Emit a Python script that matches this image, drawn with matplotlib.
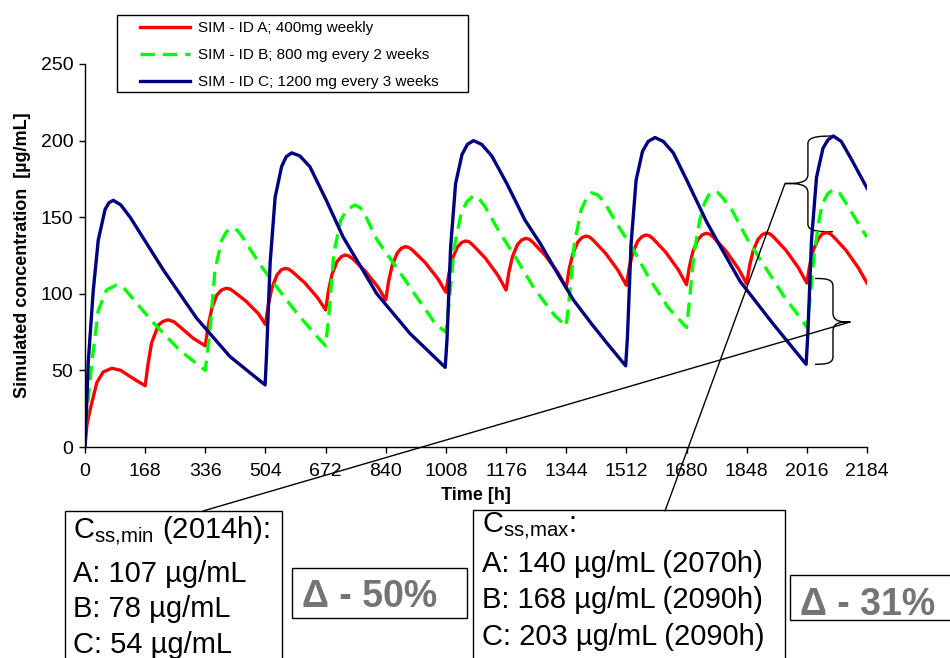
import matplotlib
matplotlib.use("Agg")
import matplotlib.pyplot as plt
from matplotlib.patches import Rectangle, PathPatch, ConnectionPatch
from matplotlib.path import Path

plt.rcParams['font.family'] = ['Liberation Sans', 'DejaVu Sans']
plt.rcParams['mathtext.fontset'] = 'custom'
plt.rcParams['mathtext.rm'] = 'Liberation Sans'
plt.rcParams['mathtext.it'] = 'Liberation Sans:italic'
plt.rcParams['mathtext.bf'] = 'Liberation Sans:bold'

# ---------------- data ----------------
labels = ["SIM - ID A; 400mg weekly",
          "SIM - ID B; 800 mg every 2 weeks",
          "SIM - ID C; 1200 mg every 3 weeks"]

time_a = [0, 5, 14, 33, 51, 75, 100, 126, 150, 168,
          176, 186, 205, 218, 232, 248, 265, 302, 336,
          344, 354, 368, 381, 394, 404, 414, 449, 484, 504,
          512, 522, 536, 548, 559, 569, 579, 614, 649, 672,
          680, 690, 704, 716, 727, 737, 747, 782, 817, 840,
          848, 858, 872, 884, 895, 905, 915, 950, 985, 1008,
          1016, 1026, 1040, 1052, 1063, 1073, 1083, 1118, 1153, 1176,
          1184, 1194, 1208, 1220, 1231, 1241, 1251, 1286, 1321, 1344,
          1352, 1362, 1376, 1388, 1399, 1409, 1419, 1454, 1489, 1512,
          1520, 1530, 1544, 1556, 1567, 1577, 1587, 1622, 1657, 1680,
          1688, 1698, 1712, 1724, 1735, 1745, 1755, 1790, 1825, 1848,
          1856, 1866, 1880, 1892, 1903, 1913, 1923, 1958, 1993, 2016,
          2024, 2034, 2048, 2059, 2070, 2080, 2090, 2125, 2160, 2184]
conc_a = [0, 14, 24, 42, 49, 51.4, 50, 46, 42.5, 40,
          54, 68, 79.6, 82, 83, 81.8, 78.5, 71, 66,
          79.2, 90.4, 99.1, 102.4, 103.6, 103.2, 101.7, 95.3, 87.1, 80,
          92.8, 103.8, 112.2, 115.6, 116.6, 116.1, 114.4, 107.1, 97.6, 89.5,
          102.0, 112.8, 121.0, 124.3, 125.3, 124.7, 123.0, 115.0, 104.8, 96,
          108.2, 118.6, 126.6, 129.8, 130.8, 130.2, 128.4, 120.4, 110.0, 101,
          112.7, 122.8, 130.5, 133.5, 134.5, 133.9, 131.9, 123.3, 112.1, 102.5,
          114.3, 124.4, 132.2, 135.2, 136.2, 135.6, 133.6, 124.9, 113.7, 104,
          115.8, 125.9, 133.7, 136.7, 137.7, 137.1, 135.1, 126.4, 115.2, 105.5,
          117.0, 126.9, 134.5, 137.4, 138.4, 137.8, 135.8, 127.1, 115.7, 106,
          117.7, 127.8, 135.5, 138.5, 139.5, 138.9, 136.9, 128.0, 116.4, 106.5,
          118.1, 128.1, 135.7, 138.7, 139.7, 139.1, 137.1, 128.3, 116.8, 107,
          118.6, 128.5, 136.0, 139.0, 140, 139.4, 137.4, 128.5, 116.9, 107]

time_b = [0, 5, 19, 37, 60, 88, 106, 126, 191, 265, 336,
          341, 349, 363, 382, 395, 410, 425, 440, 489, 540, 593, 656, 672,
          680, 695, 714, 732, 754, 770, 785, 816, 872, 926, 980, 1008,
          1016, 1031, 1050, 1066, 1085, 1101, 1117, 1157, 1210, 1254, 1313, 1344,
          1352, 1367, 1386, 1400, 1415, 1432, 1450, 1482, 1532, 1576, 1629, 1680,
          1688, 1700, 1716, 1730, 1742, 1755, 1768, 1780, 1806, 1850, 1902, 1953, 2005, 2016,
          2024, 2036, 2050, 2060, 2075, 2090, 2108, 2126, 2174, 2184]
conc_b = [0, 22, 55, 89, 102.5, 105.7, 104.5, 99, 81, 63, 50,
          60, 76, 115.5, 135, 140.5, 143.2, 141.5, 137, 119, 103, 87, 70, 66,
          83, 126.5, 148, 155, 158, 156, 150, 135, 116.6, 98, 80, 75,
          92, 130, 152, 160, 164, 162, 157, 140.5, 121, 103.6, 85.5, 79,
          96, 133, 155, 162, 166, 164.5, 160, 147, 128.6, 110, 91, 78,
          95, 125, 147, 159, 164.5, 167, 166, 163, 155, 135.6, 116.6, 98, 82, 78,
          95, 125, 148, 159, 165.5, 168, 165.5, 159, 140.5, 137]

time_c = [0, 5, 9, 23, 37, 56, 67, 79, 100, 126, 219, 312, 405, 503,
          507, 517, 531, 549, 562, 577, 600, 628, 674, 721, 815, 908, 1006,
          1011, 1021, 1035, 1053, 1068, 1085, 1108, 1136, 1178, 1229, 1271, 1323, 1364, 1416, 1457, 1510,
          1515, 1525, 1539, 1557, 1573, 1592, 1615, 1643, 1681, 1736, 1774, 1830, 1923, 2014,
          2019, 2029, 2043, 2061, 2075, 2090, 2112, 2140, 2184]
conc_c = [0, 30, 55, 102, 135, 155, 159.5, 161, 158, 150, 115.5, 84, 59, 40.5,
          60, 120, 163, 183, 189.5, 192, 190, 183, 161, 137, 100, 74, 52,
          70, 130, 172, 191, 197.5, 200, 197.5, 190, 172, 148, 133, 112, 96, 80, 68, 53,
          72, 132, 174, 193, 199.5, 202, 199.5, 192, 174, 147, 131, 108, 80, 54,
          75, 135, 176, 195, 200.5, 203, 199.5, 188, 169]

x_ticks = list(range(0, 2185, 168))
y_ticks = [0, 50, 100, 150, 200, 250]

css_min_lines = [r"C$_{\mathrm{ss{,}min}}$ (2014h):", "A: 107 µg/mL", "B: 78 µg/mL", "C: 54 µg/mL"]
css_max_lines = [r"C$_{\mathrm{ss{,}max}}$:", "A: 140 µg/mL (2070h)",
                 "B: 168 µg/mL (2090h)", "C: 203 µg/mL (2090h)"]
delta_min = "Δ - 50%"
delta_max = "Δ - 31%"
# brace ranges (Css values)
upper_range = (140.5, 203)
lower_range = (54, 110)

# ---------------- figure ----------------
W, H = 950, 658
fig = plt.figure(figsize=(W / 100, H / 100), dpi=100)
ax = fig.add_axes([85 / W, 1 - 447 / H, (867 - 85) / W, (447 - 64) / H])


def fx(px):
    return px / W


def fy(py):
    return 1 - py / H


lw = 2.4
la, = ax.plot(time_a, conc_a, color='#FF0000', lw=lw, solid_joinstyle='round')
lb, = ax.plot(time_b, conc_b, color='#00FF00', lw=lw, linestyle=(0, (4.3, 2.4)))
lc, = ax.plot(time_c, conc_c, color='#000080', lw=lw, solid_joinstyle='round')

ax.set_xlim(0, 2184)
ax.set_ylim(0, 250)
ax.set_xticks(x_ticks)
ax.set_yticks(y_ticks)
for s in ['top', 'right']:
    ax.spines[s].set_visible(False)
for s in ['left', 'bottom']:
    ax.spines[s].set_linewidth(1.0)
ax.tick_params(axis='both', direction='out', length=4.3, width=1.0, labelsize=14)
ax.tick_params(axis='x', pad=7)
ax.tick_params(axis='y', pad=4)

ax.set_xlabel('Time [h]', fontsize=13, fontweight='bold')
ax.set_ylabel('Simulated concentration  [µg/mL]', fontsize=13, fontweight='bold')
ax.xaxis.set_label_coords(0.5, -0.105)
ax.yaxis.set_label_coords(-0.069, 0.5)

# legend (real legend object, with frame drawn separately)
leg = fig.legend([la, lb, lc], labels, loc='upper left',
                 bbox_to_anchor=(fx(140), fy(21)), bbox_transform=fig.transFigure,
                 frameon=False, fontsize=11, borderpad=0, borderaxespad=0,
                 handlelength=3.27, handletextpad=0.52, labelspacing=0.85)
fig.add_artist(Rectangle((fx(117), fy(92)), fx(468) - fx(117), fy(15) - fy(92),
                         transform=fig.transFigure, fill=False, ec='black', lw=1.0))


# ---------------- braces ----------------
def brace(xs, xt, xe_top, xe_bot, ybot, ytop, ym, r_end=5, r_mid=6):
    verts = [
        (xe_top, ytop),
        ((xe_top + xs) / 2, ytop), (xs, ytop), (xs, ytop - r_end),
        (xs, ym + r_mid),
        (xs, ym), ((xs + xt) / 2, ym), (xt, ym),
        ((xs + xt) / 2, ym), (xs, ym), (xs, ym - r_mid),
        (xs, ybot + r_end),
        (xs, ybot), ((xe_bot + xs) / 2, ybot), (xe_bot, ybot),
    ]
    codes = [Path.MOVETO,
             Path.CURVE4, Path.CURVE4, Path.CURVE4,
             Path.LINETO,
             Path.CURVE4, Path.CURVE4, Path.CURVE4,
             Path.CURVE4, Path.CURVE4, Path.CURVE4,
             Path.LINETO,
             Path.CURVE4, Path.CURVE4, Path.CURVE4]
    p = PathPatch(Path(verts, codes), fill=False, ec='black', lw=1.0, clip_on=False)
    ax.add_patch(p)


up_mid = 172
lo_mid = 81.6
brace(2019, 1955, 2095, 2089, upper_range[0], upper_range[1], up_mid)
brace(2089, 2137, 2039, 2039, lower_range[0], lower_range[1], lo_mid)

# connector lines from brace tips to boxes
fig.add_artist(ConnectionPatch(xyA=(1955, up_mid), coordsA=ax.transData,
                               xyB=(fx(665), fy(511)), coordsB=fig.transFigure,
                               color='black', lw=1.0))
fig.add_artist(ConnectionPatch(xyA=(2137, lo_mid), coordsA=ax.transData,
                               xyB=(fx(203), fy(511)), coordsB=fig.transFigure,
                               color='black', lw=1.0))


# ---------------- text boxes ----------------
def fbox(x0, y0, x1, y1):
    fig.add_artist(Rectangle((fx(x0), fy(y1)), fx(x1) - fx(x0), fy(y0) - fy(y1),
                             transform=fig.transFigure, fill=False, ec='black', lw=1.0,
                             clip_on=False))


fbox(65, 511, 282, 700)
fbox(473, 510, 785, 700)
fbox(292, 568, 467, 618)
fbox(790, 575, 990, 620)

for txt, by in zip(css_min_lines, [538, 582, 617, 653]):
    fig.text(fx(73), fy(by), txt, fontsize=21, va='baseline', ha='left')
for txt, by in zip(css_max_lines, [533, 572, 608, 645]):
    fig.text(fx(482), fy(by), txt, fontsize=21, va='baseline', ha='left')

fig.text(fx(302), fy(607), delta_min, fontsize=27, fontweight='bold', color='#747474',
         va='baseline', ha='left')
fig.text(fx(800), fy(615), delta_max, fontsize=27, fontweight='bold', color='#747474',
         va='baseline', ha='left')

fig.savefig('out.png', dpi=100)
